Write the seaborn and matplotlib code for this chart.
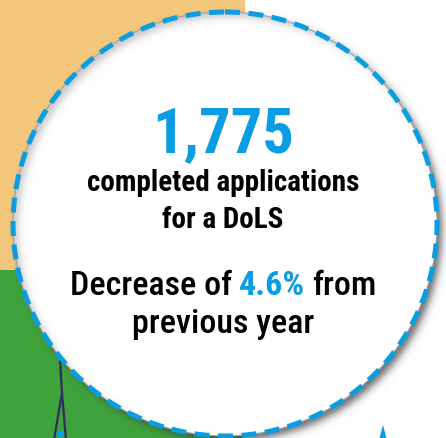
import numpy as np
import matplotlib
matplotlib.use("Agg")
import matplotlib.pyplot as plt
import seaborn as sns
from matplotlib import font_manager
from matplotlib.patches import Circle, Rectangle, Polygon

# values shown on the card
headline_value = [1775]
headline_lines = ["completed applications", "for a DoLS"]
change_pct = [4.6]
change_words = ["Decrease of", "from"]
change_tail = ["previous year"]

# colours
blue = "#0a9de2"
orange = "#f3c87c"
green = "#3fa33b"
navy = "#2d2d5a"

sns.set_theme(style="white")

# pick a condensed family if one is installed
names = {f.name for f in font_manager.fontManager.ttflist}
cond = "DejaVu Sans"
for fam in ["Roboto Condensed", "Liberation Sans Narrow", "Open Sans Condensed"]:
    if fam in names:
        cond = fam
        break
plt.rcParams["font.family"] = [cond, "DejaVu Sans"]

W, H = 446, 438
fig = plt.figure(figsize=(W / 100, H / 100), dpi=100)
ax = fig.add_axes([0, 0, 1, 1])
ax.axis("off")

# background blocks behind the bubble
ax.add_patch(Rectangle((0, 0), 245, 270, color=orange, lw=0, zorder=0))
ax.add_patch(Rectangle((0, 270), 245, H - 270, color=green, lw=0, zorder=0))

# little figure poking out at the bottom
ax.plot([60, 62, 54], [358, 393, 440], color=navy, lw=1.6, zorder=1)
ax.plot([62, 66], [393, 440], color=navy, lw=1.6, zorder=1)
ax.add_patch(Circle((60, 434), 3.5, color=blue, lw=0, zorder=1))
ax.add_patch(Polygon([[383, 425], [379, 440], [387, 440]], color=blue, lw=0, zorder=1))

# bubble
cx, cy, r = 225, 224, 212
ax.add_patch(Circle((cx, cy), r, facecolor="white", edgecolor="none", zorder=2))

# drop shadow outside (down-right) and faint inner shadow (top-left)
yy, xx = np.mgrid[0:H, 0:W] + 0.5
d0 = np.hypot(xx - cx, yy - cy)
doff = np.hypot(xx - cx - 5, yy - cy - 5)
s = 4.0
a_out = 0.72 / (1 + np.exp(1.7 * (doff - r) / s))
a_in = 0.28 / (1 + np.exp(1.7 * (r - doff) / s))
alpha = np.where(d0 <= r, a_in, a_out)
shadow = np.zeros((H, W, 4))
shadow[..., :3] = 0.22
shadow[..., 3] = alpha
ax.imshow(shadow, extent=(0, W, H, 0), zorder=3, interpolation="bilinear")
ax.set_xlim(0, W)
ax.set_ylim(H, 0)

ax.add_patch(Circle((cx, cy), r, fill=False, edgecolor="#a0a0a0", lw=0.8, zorder=4))
ax.add_patch(Circle((cx, cy), r, fill=False, edgecolor=blue, lw=3.6,
                    linestyle=(0, (3.0, 1.7)), capstyle="butt", zorder=5))

# text
tx = 223
ax.text(tx, 152, f"{headline_value[0]:,}", color=blue, fontsize=45, fontweight="bold",
        ha="center", va="baseline", zorder=6)
ax.text(tx, 191, headline_lines[0], color="black", fontsize=21, fontweight="heavy",
        ha="center", va="baseline", zorder=6)
ax.text(tx, 228, headline_lines[1], color="black", fontsize=21, fontweight="heavy",
        ha="center", va="baseline", zorder=6)

parts = [(change_words[0], "black", "medium"),
         (f"{change_pct[0]}%", blue, "bold"),
         (change_words[1], "black", "medium")]
texts = [ax.text(0, 295, s_, color=c, fontsize=24.5, fontweight=w, ha="left", va="baseline", zorder=6)
         for s_, c, w in parts]
renderer = fig.canvas.get_renderer()
widths = [t.get_window_extent(renderer).width for t in texts]
gap = 7
total = sum(widths) + gap * (len(widths) - 1)
x = tx - total / 2
for t, wdt in zip(texts, widths):
    t.set_x(x)
    x += wdt + gap

ax.text(tx, 333, change_tail[0], color="black", fontsize=24.5, fontweight="medium",
        ha="center", va="baseline", zorder=6)

fig.savefig("out.png", dpi=100)
